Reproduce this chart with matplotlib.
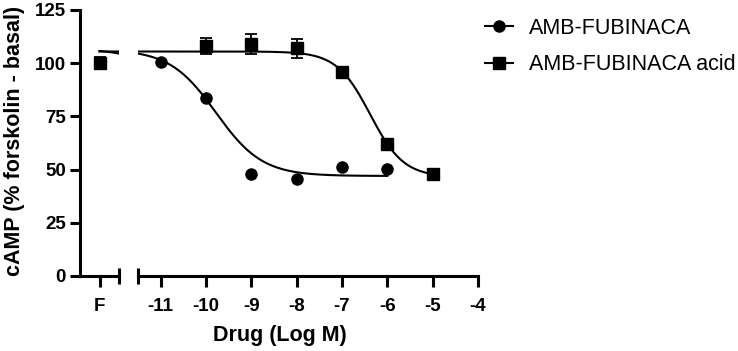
import numpy as np
import matplotlib.pyplot as plt

plt.rcParams['font.family'] = ['Liberation Sans', 'DejaVu Sans']

# log concentrations and responses
conc_fub = [-11, -10, -9, -8, -7, -6]
camp_fub = [100.4, 83.8, 47.9, 45.6, 51.4, 50.1]

conc_acid = [-10, -9, -8, -7, -6, -5]
camp_acid = [108.1, 109.0, 107.0, 96.0, 62.0, 47.9]
err_acid = [3.9, 4.8, 4.4, 0.8, 0.8, 0.6]

# forskolin only ("F") point, plotted at x=-12 on the first axis segment
f_x = -12
f_fub = 100.0
f_acid = 100.0
f_err = 2.9

# fitted 4PL curve parameters: top, bottom, logIC50, hill slope
fit_fub = (106.5, 47.0, -9.78, 0.85)
fit_acid = (105.5, 46.5, -6.38, 1.175)

xticks = [-11, -10, -9, -8, -7, -6, -5, -4]
yticks = [0, 25, 50, 75, 100, 125]


def curve(x, top, bottom, logc, hill):
    return bottom + (top - bottom) / (1 + 10 ** ((x - logc) * hill))


W, H = 738, 351
fig = plt.figure(figsize=(W / 100, H / 100), dpi=100)

y0, y1 = 276, 10
bot = 1 - y0 / H
hgt = (y0 - y1) / H
ax1 = fig.add_axes([80 / W, bot, 39 / W, hgt])
ax2 = fig.add_axes([138 / W, bot, 340 / W, hgt])

lw = 2.2
tick_fs = 13.5
for ax in (ax1, ax2):
    ax.set_ylim(0, 125)
    for s in ('top', 'right'):
        ax.spines[s].set_visible(False)
    for s in ('left', 'bottom'):
        ax.spines[s].set_linewidth(lw)
    ax.tick_params(width=lw, length=8, labelsize=tick_fs)

ax2.spines['left'].set_visible(False)
ax2.tick_params(axis='y', left=False, labelleft=False)

ax1.set_xlim(-12.5, -11.5)
ax1.set_xticks([f_x])
ax1.set_xticklabels(['F'], fontweight='bold')
ax1.set_yticks(yticks)
ax1.set_yticklabels([str(v) for v in yticks], fontweight='bold')
ax1.tick_params(axis='y', length=7, pad=3)
ax1.tick_params(axis='x', pad=8)

ax2.set_xlim(-11.5, -4)
ax2.set_xticks(xticks)
ax2.set_xticklabels([str(v) for v in xticks], fontweight='bold')
ax2.tick_params(axis='x', pad=8)

# end caps of the broken x axis
ax1.plot(1, 0, marker='|', ms=12, mew=lw, color='black',
         transform=ax1.transAxes, clip_on=False)
ax2.plot(0, 0, marker='|', ms=12, mew=lw, color='black',
         transform=ax2.transAxes, clip_on=False)

xs_fub = np.linspace(f_x, conc_fub[-1], 400)
xs_acid = np.linspace(f_x, conc_acid[-1], 400)
for ax in (ax1, ax2):
    ax.plot(xs_fub, curve(xs_fub, *fit_fub), color='black', lw=1.5)
    ax.plot(xs_acid, curve(xs_acid, *fit_acid), color='black', lw=1.5)

ms = 8
ax1.plot([f_x], [f_fub], 'o', color='black', ms=ms)
ax1.errorbar([f_x], [f_acid], yerr=[f_err], fmt='s', color='black',
             ms=ms, capsize=4, elinewidth=1.3, capthick=1.3)

ax2.plot(conc_fub, camp_fub, 'o', color='black', ms=ms, clip_on=False)
ax2.errorbar(conc_acid, camp_acid, yerr=err_acid, fmt='s', color='black',
             ms=ms, capsize=4, elinewidth=1.3, capthick=1.3)

h1, = ax2.plot([], [], 'o-', color='black', ms=ms, lw=1.5)
h2, = ax2.plot([], [], 's-', color='black', ms=ms, lw=1.5)
fig.legend([h1, h2], ['AMB-FUBINACA', 'AMB-FUBINACA acid'],
           loc='upper left', bbox_to_anchor=(485 / W, 1 - 18 / H),
           frameon=False, fontsize=15.5, handlelength=1.3,
           handletextpad=0.75, labelspacing=0.7, borderpad=0,
           borderaxespad=0)

fig.text(15 / W, 1 - 141 / H, 'cAMP (% forskolin - basal)', rotation=90,
         ha='center', va='center', fontsize=15.5, fontweight='bold')
fig.text(280 / W, 1 - 335 / H, 'Drug (Log M)', ha='center', va='center',
         fontsize=15.5, fontweight='bold')

fig.savefig('out.png', dpi=100)
